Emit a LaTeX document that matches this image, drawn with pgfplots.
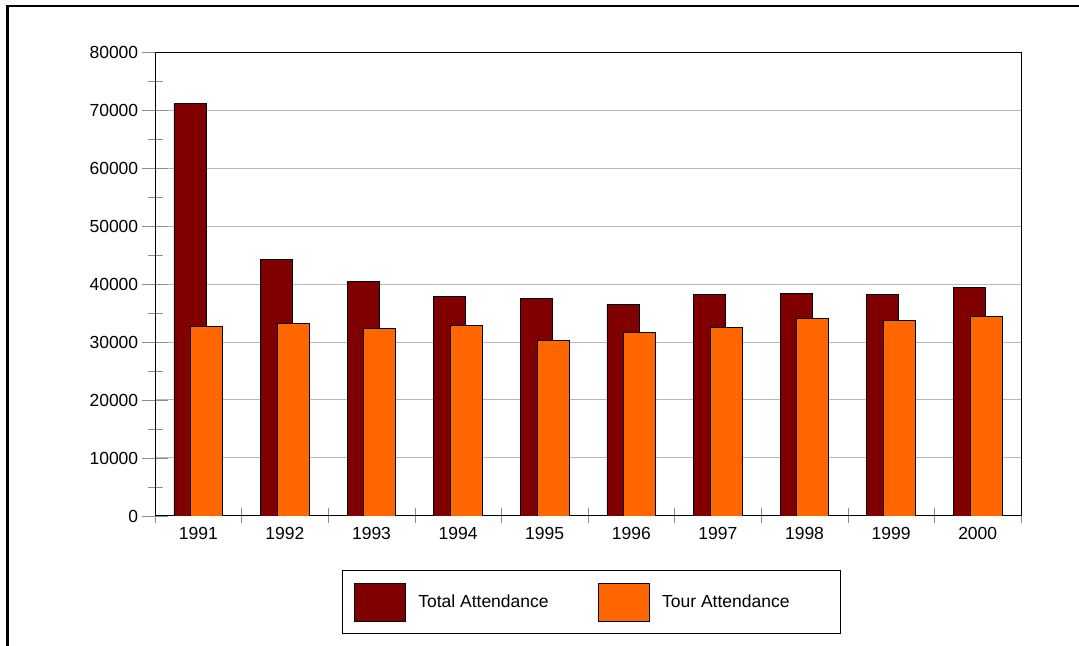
\documentclass[border=0pt]{standalone}
\usepackage{fontspec}
\setmainfont{Liberation Sans}
\usepackage{pgfplots}
\pgfplotsset{compat=1.18}
\definecolor{totalred}{HTML}{800000}
\definecolor{tourorange}{HTML}{FF6600}
\definecolor{gridgray}{HTML}{B8B8B8}
\definecolor{tickgray}{HTML}{8C8C8C}
\begin{document}
\begin{tikzpicture}
% page frame, 1px = 0.6pt
\path[use as bounding box] (0pt,0pt) rectangle (647.4pt,387.6pt);
\draw[line width=1.6pt] (4.6pt,-2pt) -- (4.6pt,384pt) -- (650pt,384pt);
\begin{axis}[
  at={(93pt,78pt)}, anchor=south west,
  scale only axis, width=519.6pt, height=278.4pt,
  xmin=-0.5, xmax=9.5, ymin=0, ymax=80000,
  ybar=0pt, bar width=19.2pt,
  xtick={-0.5,0.5,...,9.5},
  xticklabels={1991,1992,1993,1994,1995,1996,1997,1998,1999,2000},
  x tick label as interval,
  ytick={0,10000,...,80000},
  minor y tick num=1,
  tick pos=left,
  tick align=center,
  xtick style={draw=tickgray, /pgfplots/major tick length=9pt},
  ytick style={draw=tickgray, /pgfplots/major tick length=15pt},
  minor tick style={draw=tickgray, /pgfplots/minor tick length=9pt},
  ymajorgrids, major grid style={gridgray, line width=0.6pt},
  axis line style={black, line width=0.6pt},
  scaled y ticks=false,
  /pgf/number format/.cd, 1000 sep={}, assume math mode=true, /pgfplots/.cd,
  tick label style={font=\fontsize{10.5}{12}\selectfont},
  yticklabel style={xshift=-4.4pt},
  xticklabel style={yshift=-1pt},
  legend columns=2,
  legend image code/.code={\draw[#1] (0pt,-11.4pt) rectangle (30.6pt,11.4pt);},
  legend style={at={(0.2159,-0.1164)}, anchor=north west, draw=black,
    line width=0.6pt, inner xsep=7.2pt, inner ysep=7.2pt,
    font=\fontsize{10.5}{12}\selectfont,
    nodes={inner sep=0pt},
    /tikz/every odd column/.append style={column sep=7.2pt},
    /tikz/every even column/.append style={column sep=0pt}},
]
\addplot[draw=black, line width=0.5pt, fill=totalred, bar shift=-5pt]
  coordinates {(0,71100) (1,44250) (2,40400) (3,37930) (4,37430)
               (5,36500) (6,38220) (7,38400) (8,38220) (9,39360)};
\addplot[draw=black, line width=0.5pt, fill=tourorange, bar shift=5pt]
  coordinates {(0,32640) (1,33220) (2,32280) (3,32780) (4,30300)
               (5,31620) (6,32550) (7,34100) (8,33790) (9,34430)};
\legend{\makebox[108pt][l]{Total Attendance},\makebox[100pt][l]{Tour Attendance}}
\end{axis}
\end{tikzpicture}
\end{document}
